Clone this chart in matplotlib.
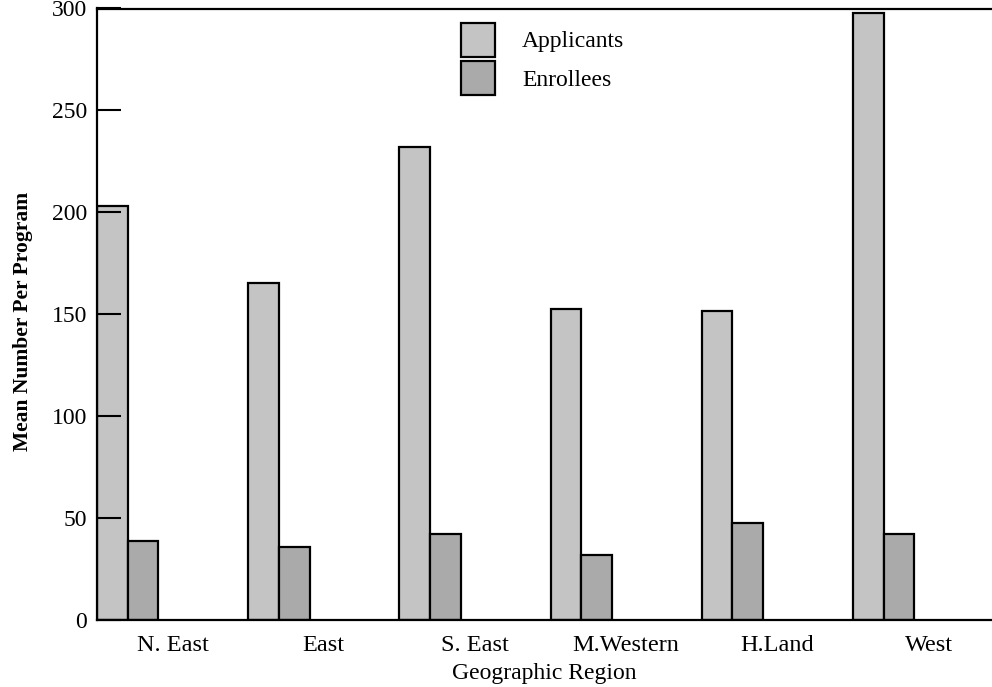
import numpy as np
import matplotlib
matplotlib.use("Agg")
import matplotlib.pyplot as plt

regions = ["N. East", "East", "S. East", "M.Western", "H.Land", "West"]
applicants = [203, 165.5, 232, 152.5, 151.5, 298]
enrollees = [39, 36, 42, 32, 47.5, 42]

plt.rcParams['font.family'] = ['Liberation Serif', 'DejaVu Serif']
plt.rcParams['font.size'] = 17

fig = plt.figure(figsize=(9.92, 6.87), dpi=100)
ax = fig.add_axes([97 / 992, 1 - 620 / 687, 1 - 97 / 992, (620 - 8.5) / 687])

x = np.arange(len(regions))
w = 0.203
ax.bar(x, applicants, width=w, align='edge', color='#c4c4c4',
       edgecolor='black', linewidth=1.6, label='Applicants')
ax.bar(x + w, enrollees, width=w, align='edge', color='#aaaaaa',
       edgecolor='black', linewidth=1.6, label='Enrollees')

ax.set_xlim(0, 895 / 151.2)
ax.set_ylim(0, 300)
ax.set_xticks(x + 0.5)
ax.set_xticklabels(regions, fontsize=17.5)
ax.set_yticks([0, 50, 100, 150, 200, 250, 300])
ax.tick_params(axis='x', length=0, pad=11)
ax.tick_params(axis='y', direction='in', length=17, width=1.5, pad=7)

for s in ['left', 'bottom', 'top']:
    ax.spines[s].set_linewidth(1.6)
ax.spines['right'].set_visible(False)

ax.set_xlabel('Geographic Region', labelpad=5)
ax.set_ylabel('Mean Number Per Program', fontweight='bold', fontsize=15.5)
ax.yaxis.set_label_coords(-0.0715, 0.488)

ax.legend(loc='upper left', bbox_to_anchor=(461 / 992, 1 - 22.7 / 687),
          bbox_transform=fig.transFigure, frameon=False, borderpad=0,
          borderaxespad=0, handlelength=1.44, handleheight=1.84,
          handletextpad=1.15, labelspacing=0.2)

fig.savefig('out.png', dpi=100)
